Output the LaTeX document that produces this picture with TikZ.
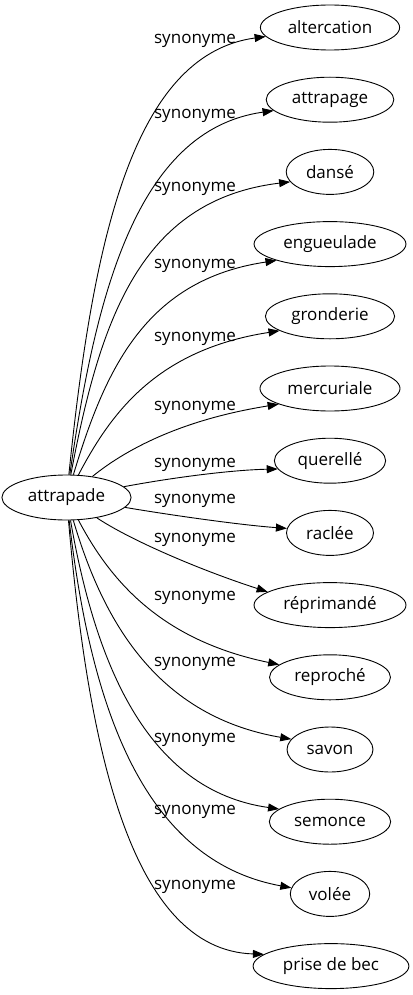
\documentclass[tikz,border=0pt]{standalone}
\usepackage{fontspec}
\setmainfont{Open Sans}
\usetikzlibrary{shapes.geometric,arrows.meta}
\tikzset{
  wnode/.style={draw, ellipse, line width=0.9pt, inner xsep=7pt, inner ysep=0pt, minimum height=45pt, font=\fontsize{17}{20}\selectfont},
  lbl/.style={font=\fontsize{17}{20}\selectfont, inner sep=0pt},
  edge/.style={draw, line width=0.9pt, -{Triangle[length=11pt,width=8pt]}}
}
\begin{document}
\begin{tikzpicture}[x=1pt,y=-1pt]
\useasboundingbox (0,0) rectangle (412,995);
\node[wnode] (src) at (66.5,497.5) {attrapade};
\node[wnode] (t0) at (330,27.5) {altercation};
\node[wnode] (t1) at (330,99.7) {attrapage};
\node[wnode] (t2) at (330,171.9) {dansé};
\node[wnode] (t3) at (330,244.1) {engueulade};
\node[wnode] (t4) at (330,316.3) {gronderie};
\node[wnode] (t5) at (330,388.5) {mercuriale};
\node[wnode] (t6) at (330,460.7) {querellé};
\node[wnode] (t7) at (330,532.9) {raclée};
\node[wnode] (t8) at (330,605.1) {réprimandé};
\node[wnode] (t9) at (330,677.3) {reproché};
\node[wnode] (t10) at (330,749.5) {savon};
\node[wnode] (t11) at (330,821.7) {semonce};
\node[wnode] (t12) at (330,893.9) {volée};
\node[wnode] (t13) at (331,966.1) {prise de bec};
\node[lbl] (l0) at (195,41) {synonyme};
\node[lbl] (l1) at (195,116) {synonyme};
\node[lbl] (l2) at (195,189) {synonyme};
\node[lbl] (l3) at (195,266) {synonyme};
\node[lbl] (l4) at (195,339) {synonyme};
\node[lbl] (l5) at (195,408) {synonyme};
\node[lbl] (l6) at (195,465) {synonyme};
\node[lbl] (l7) at (195,501) {synonyme};
\node[lbl] (l8) at (195,540) {synonyme};
\node[lbl] (l9) at (195,598) {synonyme};
\node[lbl] (l10) at (195,664) {synonyme};
\node[lbl] (l11) at (195,740) {synonyme};
\node[lbl] (l12) at (195,812) {synonyme};
\node[lbl] (l13) at (195,887) {synonyme};
\path[edge] (src) .. controls (92,250) and (130,55) .. (t0.188);
\path[edge] (src) .. controls (95,300) and (135,130) .. (t1.191);
\path[edge] (src) .. controls (100,320) and (140,200) .. (t2.194);
\path[edge] (src) .. controls (105,370) and (145,280) .. (t3.197);
\path[edge] (src) .. controls (110,415) and (155,350) .. (t4.196);
\path[edge] (src) .. controls (125,450) and (180,420) .. (t5.197);
\path[edge] (src) .. controls (170,478) and (230,470) .. (t6.189);
\path[edge] (src) .. controls (170,515) and (240,525) .. (t7.174);
\path[edge] (src) .. controls (130,540) and (200,570) .. (t8.168);
\path[edge] (src) .. controls (110,580) and (160,640) .. (t9.166);
\path[edge] (src) .. controls (100,610) and (150,715) .. (t10.165);
\path[edge] (src) .. controls (95,660) and (145,790) .. (t11.166);
\path[edge] (src) .. controls (90,700) and (140,860) .. (t12.171);
\path[edge] (src) .. controls (88,745) and (130,950) .. (t13.170);
\end{tikzpicture}
\end{document}
